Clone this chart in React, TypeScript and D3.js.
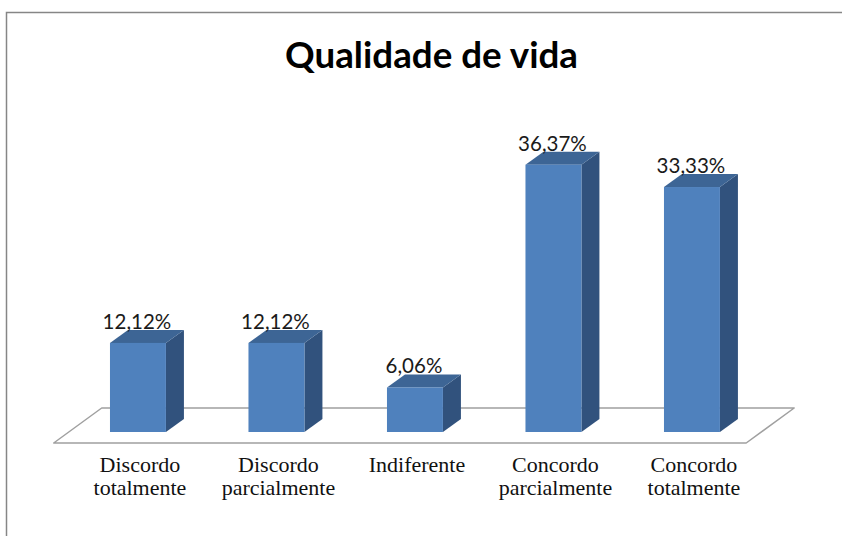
import { useEffect, useRef } from 'react'
import * as d3 from 'd3'

const categories = [
    'Discordo totalmente',
    'Discordo parcialmente',
    'Indiferente',
    'Concordo parcialmente',
    'Concordo totalmente',
]
const values = [12.12, 12.12, 6.06, 36.37, 33.33]
const title = 'Qualidade de vida'

const App = () => {
    const ref = useRef<SVGSVGElement>(null)

    useEffect(() => {
        const width = 842
        const height = 536
        const baseY = 432
        // depth of the bars and of the floor (oblique projection)
        const depthX = 18
        const depthY = -13
        const floorFront = { dx: -15, dy: 11 }
        const floorBack = { dx: 33, dy: -24 }

        const svg = d3.select(ref.current)
        svg.selectAll('*').remove()
        svg.attr('width', width).attr('height', height)

        const x = d3
            .scaleBand<string>()
            .domain(categories)
            .range([68.7, 761.2])
            .paddingInner(0.596)
            .paddingOuter(0.298)

        const y = d3.scaleLinear().domain([0, 40]).range([baseY, baseY - 294])

        // chart frame
        svg.append('rect')
            .attr('x', 6.5)
            .attr('y', 12.5)
            .attr('width', 900)
            .attr('height', 600)
            .attr('fill', 'white')
            .attr('stroke', '#868686')
            .attr('stroke-width', 1.5)

        // title
        svg.append('text')
            .attr('x', 431.5)
            .attr('y', 68)
            .attr('text-anchor', 'middle')
            .attr('font-family', 'Lato, sans-serif')
            .attr('font-weight', 'bold')
            .attr('font-size', 36)
            .attr('textLength', 293)
            .attr('lengthAdjust', 'spacingAndGlyphs')
            .text(title)

        // floor
        const [x0, x1] = x.range()
        const floor: [number, number][] = [
            [x0 + floorFront.dx, baseY + floorFront.dy],
            [x0 + floorBack.dx, baseY + floorBack.dy],
            [x1 + floorBack.dx, baseY + floorBack.dy],
            [x1 + floorFront.dx, baseY + floorFront.dy],
        ]
        svg.append('path')
            .attr('d', d3.line()(floor) + 'Z')
            .attr('fill', 'white')
            .attr('stroke', '#a0a0a0')
            .attr('stroke-width', 1.5)
            .attr('stroke-linejoin', 'round')

        const data = categories.map((c, i) => ({ c, v: values[i] }))
        const bw = x.bandwidth()

        const bars = svg.append('g').selectAll('g').data(data).join('g')

        // side face
        bars.append('path')
            .attr('d', (d) => {
                const l = x(d.c)! + bw
                const t = y(d.v)
                return (
                    d3.line()([
                        [l, baseY],
                        [l + depthX, baseY + depthY],
                        [l + depthX, t + depthY],
                        [l, t],
                    ]) + 'Z'
                )
            })
            .attr('fill', '#31527d')

        // top face
        bars.append('path')
            .attr('d', (d) => {
                const l = x(d.c)!
                const t = y(d.v)
                return (
                    d3.line()([
                        [l, t],
                        [l + depthX, t + depthY],
                        [l + bw + depthX, t + depthY],
                        [l + bw, t],
                    ]) + 'Z'
                )
            })
            .attr('fill', '#3d6595')

        // front face
        bars.append('rect')
            .attr('x', (d) => x(d.c)!)
            .attr('y', (d) => y(d.v))
            .attr('width', bw)
            .attr('height', (d) => baseY - y(d.v))
            .attr('fill', '#4f81bd')

        // value labels
        bars.append('text')
            .attr('x', (d) => x(d.c)! + bw / 2 - 1)
            .attr('y', (d) => y(d.v) + depthY - 1)
            .attr('text-anchor', 'middle')
            .attr('font-family', 'Lato, sans-serif')
            .attr('font-size', 20.5)
            .attr('fill', '#1a1a1a')
            .text((d) => d.v.toFixed(2).replace('.', ',') + '%')

        // category labels
        const labels = svg
            .append('g')
            .selectAll('text')
            .data(categories)
            .join('text')
            .attr('x', (d) => x(d)! + bw / 2 + 2)
            .attr('y', 472)
            .attr('text-anchor', 'middle')
            .attr('font-family', '"Liberation Serif", serif')
            .attr('font-size', 22)
            .attr('fill', '#111')

        labels
            .selectAll('tspan')
            .data((d) => d.split(' '))
            .join('tspan')
            .attr('x', function () {
                return (this.parentNode as SVGTextElement).getAttribute('x')
            })
            .attr('dy', (_, i) => (i === 0 ? 0 : 23))
            .text((t) => t)
    }, [])

    return (
        <svg
            ref={ref}
            style={{ position: 'absolute', left: 0, top: 0, background: 'white' }}
        />
    )
}

export default App
